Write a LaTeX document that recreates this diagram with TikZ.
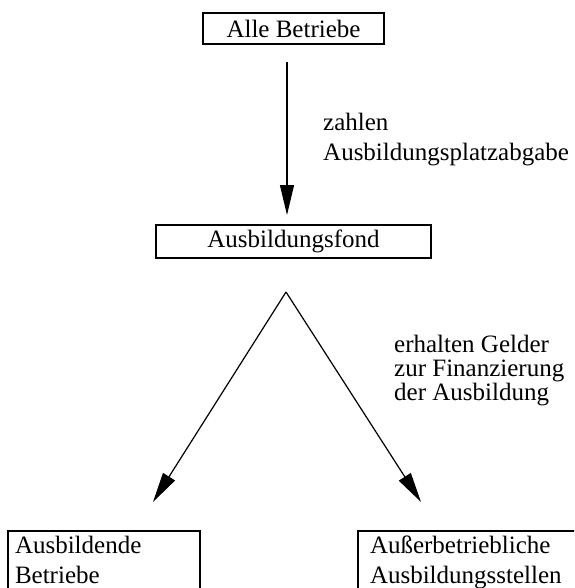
\documentclass[tikz,border=0pt]{standalone}
\usepackage{fontspec}
\setmainfont{Liberation Serif}
\usetikzlibrary{arrows.meta}
\begin{document}
\begin{tikzpicture}[x=1pt,y=-1pt,
  font=\fontsize{25}{30}\selectfont,
  box/.style={draw,line width=2pt,inner sep=0pt},
  arr/.style={line width=1.2pt,-{Triangle[length=30pt,width=14pt]}},
  lab/.style={anchor=north west,inner sep=0pt,align=left}]
\useasboundingbox (0,0) rectangle (574,588);
\clip (0,0) rectangle (574,588);
\node[box,minimum width=181pt,minimum height=31pt] (alle) at (293.5,28.5) {Alle Betriebe};
\node[box,minimum width=275pt,minimum height=33pt] (fond) at (293.5,241.5) {Ausbildungsfond};
\coordinate (s1) at (287,62);
\coordinate (t1) at (287,215);
\draw[arr] (s1) -- (t1);
\node[lab] (lab1) at (323,113) {zahlen\\Ausbildungsplatzabgabe};
\coordinate (apex) at (286,292);
\coordinate (tl) at (153,502);
\coordinate (tr) at (421,502);
\draw[arr] (apex) -- (tl);
\draw[arr] (apex) -- (tr);
\node[lab,font=\fontsize{25}{24}\selectfont] (lab2) at (394,335) {erhalten Gelder\\zur Finanzierung\\der Ausbildung};
\node[box,anchor=north west,inner xsep=7pt,inner ysep=5pt] (lb) at (7,530)
  {\parbox[t][100pt][t]{178pt}{Ausbildende\\Betriebe}};
\node[box,anchor=north west,inner xsep=12pt,inner ysep=5pt] (rb) at (357,530)
  {\parbox[t][100pt][t]{240pt}{Außerbetriebliche\\Ausbildungsstellen}};
\end{tikzpicture}
\end{document}
